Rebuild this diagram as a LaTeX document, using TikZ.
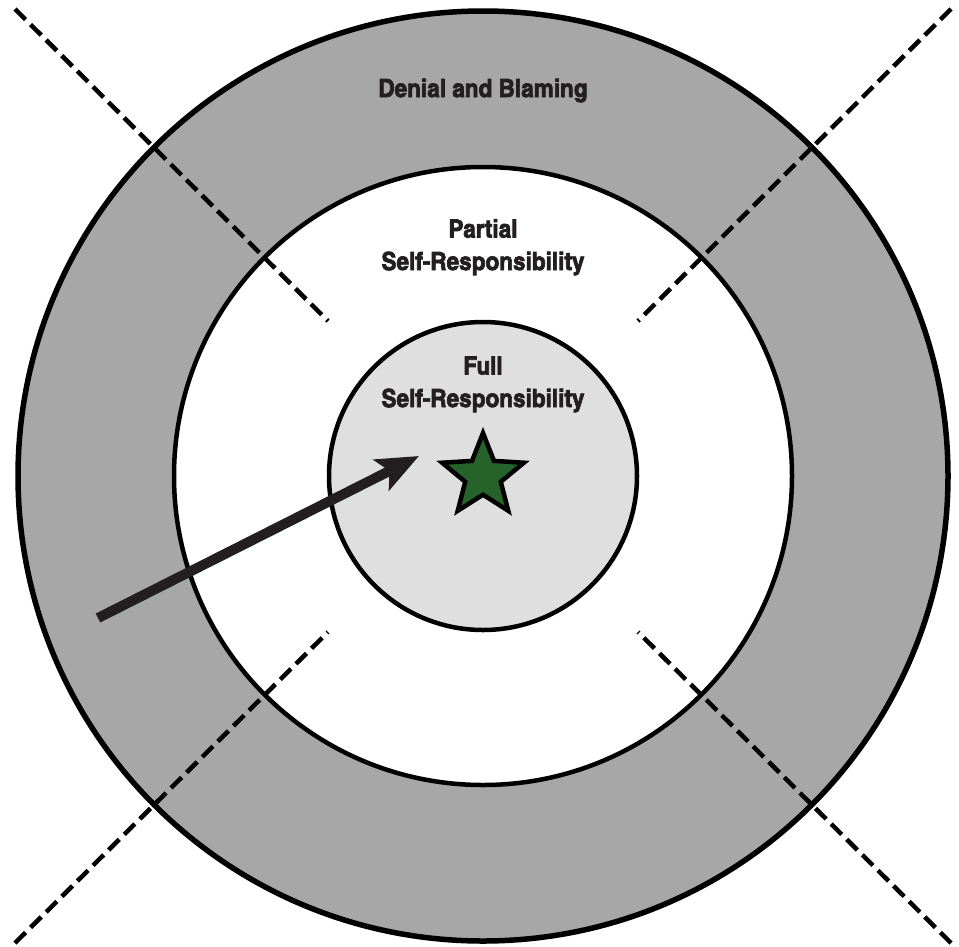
\documentclass[tikz,border=0pt]{standalone}
\usepackage{fontspec}
\newfontfamily\labelfont[FakeStretch=1.1, FakeBold=2.6]{texgyreheroscn-bold.otf}
\usetikzlibrary{arrows.meta, shapes.geometric}
\definecolor{bandgray}{HTML}{A7A7A7}
\definecolor{coregray}{HTML}{DFDFDF}
\definecolor{stargreen}{HTML}{25632A}
\definecolor{inkdark}{HTML}{231F20}
\begin{document}
\begin{tikzpicture}[x=1pt, y=-1pt,
  ring/.style={circle, draw=black, inner sep=0pt, outer sep=0pt},
  divider/.style={draw=black, line width=4.5pt, dash pattern=on 15pt off 7pt},
  lbl/.style={font=\labelfont\fontsize{25}{32.5}\selectfont, text=inkdark, align=center, anchor=base, inner sep=0pt},
  pointer/.style={draw=inkdark, fill=inkdark, line width=10pt, -{Stealth[length=42pt, width=34pt, inset=9pt]}}
]
\useasboundingbox (0,0) rectangle (959,946);
\coordinate (c) at (483,476);
\node[ring, fill=bandgray, line width=5.5pt, minimum size=930pt] (outer) at (c) {};
\node[ring, fill=white, line width=4.5pt, minimum size=618pt] (middle) at (c) {};
\node[ring, fill=coregray, line width=4.5pt, minimum size=308pt] (inner) at (c) {};
% dashed dividers
\coordinate (tl1) at (15,9);   \coordinate (tl2) at (328,321);
\coordinate (tr1) at (951,9);  \coordinate (tr2) at (638,321);
\coordinate (bl1) at (15,943); \coordinate (bl2) at (328,632);
\coordinate (br1) at (951,943);\coordinate (br2) at (638,632);
\draw[divider] (tl1) -- (tl2);
\draw[divider] (tr1) -- (tr2);
\draw[divider] (bl1) -- (bl2);
\draw[divider] (br1) -- (br2);
% labels (base anchor = baseline of last line)
\node[lbl] (deny) at (483,97) {Denial and Blaming};
\node[lbl] (partial) at (483,270) {Partial\\Self-Responsibility};
\node[lbl] (full) at (483,407) {Full\\Self-Responsibility};
% star
\node[star, star points=5, star point ratio=2.3, inner sep=0pt, minimum size=86pt,
      draw=black, line width=4.5pt, fill=stargreen] (goal) at (c) {};
% arrow
\coordinate (from) at (98,618);
\coordinate (to) at (419,456);
\draw[pointer] (from) -- (to);
\end{tikzpicture}
\end{document}
